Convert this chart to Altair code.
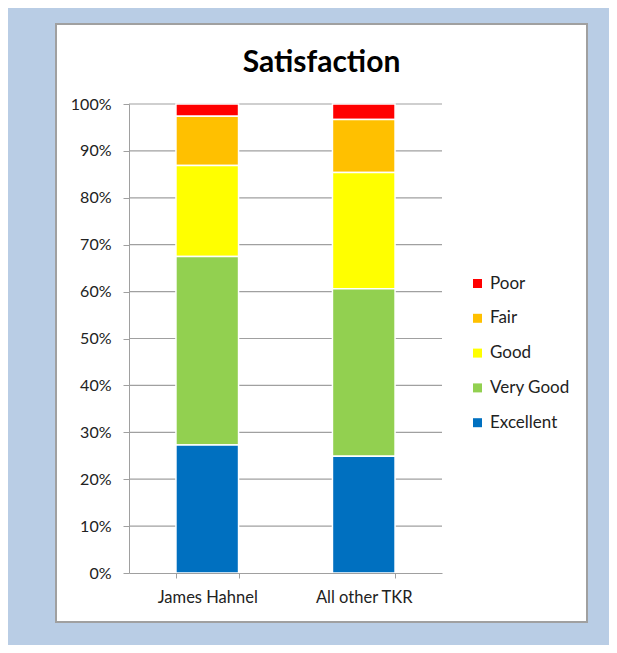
import altair as alt
import pandas as pd

categories = ["James Hahnel", "All other TKR"]
ratings = ["Poor", "Fair", "Good", "Very Good", "Excellent"]
colors = ["#ff0000", "#ffc000", "#ffff00", "#92d050", "#0070c0"]
james_hahnel = [0.026, 0.105, 0.194, 0.402, 0.273]
all_other_tkr = [0.033, 0.113, 0.248, 0.357, 0.249]
y_ticks = [0, 0.1, 0.2, 0.3, 0.4, 0.5, 0.6, 0.7, 0.8, 0.9, 1.0]
title_text = "Satisfaction"

rows = []
for cat, vals in zip(categories, [james_hahnel, all_other_tkr]):
    for i, (r, v) in enumerate(zip(ratings, vals)):
        rows.append({"group": cat, "rating": r, "share": v, "rank": len(ratings) - 1 - i})
df = pd.DataFrame(rows)
grid_df = pd.DataFrame({"v": y_ticks[1:]})

FONT = "Lato"

panel = alt.Chart(pd.DataFrame({"k": [0]})).mark_rect(
    fill="white", stroke="#a0a0a0", strokeWidth=2
).encode(
    x=alt.value(-73), x2=alt.value(458), y=alt.value(-80), y2=alt.value(518)
)

grid = alt.Chart(grid_df).mark_rule(color="#a0a0a0", strokeWidth=1.2).encode(
    y=alt.Y("v:Q"), x=alt.value(0), x2=alt.value(313)
)

title = alt.Chart(pd.DataFrame({"t": [title_text]})).mark_text(
    font=FONT, fontSize=30, fontWeight="bold", color="#000000",
    align="center", baseline="alphabetic"
).encode(
    text="t:N", x=alt.value(192.5), y=alt.value(-32)
)

bars = alt.Chart(df).mark_bar(stroke="white", strokeWidth=1.5).encode(
    x=alt.X(
        "group:N", sort=categories,
        scale=alt.Scale(paddingInner=0.6, paddingOuter=0.3),
        axis=alt.Axis(
            title=None, labelAngle=0, tickBand="extent", tickSize=5,
            labelPadding=11, labelFontSize=16.5, labelColor="#222222",
            domainColor="#a0a0a0", tickColor="#a0a0a0", labelFont=FONT,
            grid=False, zindex=1,
        ),
    ),
    y=alt.Y(
        "share:Q", stack="normalize",
        scale=alt.Scale(domain=[0, 1]),
        axis=alt.Axis(
            title=None, format=".0%", values=y_ticks, tickSize=6,
            labelPadding=12, labelFontSize=16, labelColor="#222222",
            domainColor="#a0a0a0", tickColor="#a0a0a0",
            labelFont=FONT, grid=False, zindex=1,
        ),
    ),
    color=alt.Color(
        "rating:N", sort=ratings,
        scale=alt.Scale(domain=ratings, range=colors),
        legend=alt.Legend(
            title=None, orient="none", legendX=340, legendY=171,
            symbolType="square", symbolSize=81, symbolStrokeWidth=0,
            labelFontSize=17, labelFont=FONT, labelColor="#222222",
            rowPadding=16.8, labelOffset=4, padding=0,
        ),
    ),
    order=alt.Order("rank:Q", sort="ascending"),
)

chart = alt.layer(panel, grid, bars, title).properties(
    width=313, height=469,
    autosize=alt.AutoSizeParams(type="none"),
    padding={"left": 121, "top": 96, "right": 167, "bottom": 72},
    background="#b9cde5",
).configure_view(stroke=None)

chart.save("out.html", embed_options={"renderer": "svg", "actions": False})
